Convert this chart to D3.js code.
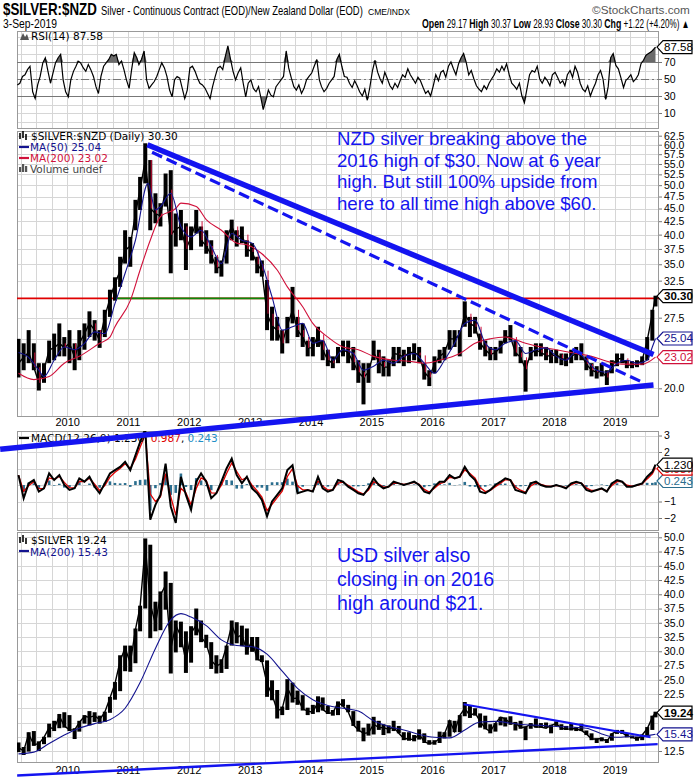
<!DOCTYPE html>
<html>
<head>
<meta charset="utf-8">
<script src="https://cdn.jsdelivr.net/npm/d3@7"></script>
<style>
  body { margin: 0; background: #fff; }
  svg { display: block; }
</style>
</head>
<body>
<svg id="chart" width="700" height="780"></svg>
<script>
// ---- data, one value per month from Mar 2009 to 3 Sep 2019 ----
var nzdHi = [25.0,24.5,26.0,24.5,22.4,22.4,24.8,25.6,26.8,25.2,
  26.0,24.5,26.0,26.8,28.3,27.2,26.0,28.5,31.2,33.0,
  36.2,40.8,39.6,46.8,51.9,60.4,56.0,48.2,46.1,52.7,
  53.5,44.0,44.7,42.1,41.5,44.7,41.5,40.8,39.0,36.2,
  35.6,40.8,42.8,40.8,41.5,39.0,38.5,36.2,35.6,32.6,
  28.9,27.6,26.0,27.6,31.6,27.6,26.8,24.8,25.2,26.4,
  24.8,23.8,23.1,24.1,24.8,24.8,24.1,22.7,22.4,22.4,
  24.8,23.8,23.1,22.7,24.1,24.1,23.8,24.1,24.5,24.1,
  22.4,21.7,23.1,23.8,24.1,26.0,26.0,26.0,29.6,27.6,
  27.6,25.6,24.8,24.1,24.1,24.8,26.0,26.6,24.8,24.1,
  22.7,24.1,24.5,24.5,24.1,23.8,23.8,23.4,23.4,23.8,
  24.1,24.5,23.1,22.4,22.1,22.4,21.7,22.7,23.4,23.4,
  22.7,22.6,22.7,23.1,25.2,28.5,30.37];
var nzdLo = [21.0,21.7,22.4,21.7,19.8,20.5,22.4,22.7,23.1,23.1,
  22.4,21.7,22.7,23.8,25.2,24.8,24.0,25.2,27.6,29.7,
  31.6,35.1,34.6,40.8,44.7,50.4,40.8,42.1,41.5,45.4,
  33.6,37.9,39.0,34.1,37.3,40.2,37.9,36.7,35.1,33.6,
  33.1,35.1,39.0,37.9,38.5,36.2,35.6,33.6,33.1,26.0,
  24.8,24.8,23.4,24.5,26.8,25.2,24.1,23.1,23.1,24.1,
  22.7,22.1,21.9,22.4,23.1,22.4,21.7,20.5,18.6,20.5,
  22.7,21.4,21.1,21.1,22.1,22.4,22.1,22.4,22.7,22.4,
  20.8,20.2,21.4,22.4,22.7,23.8,24.1,23.1,26.4,25.2,
  25.6,23.8,23.1,22.7,22.7,23.4,24.5,24.8,23.1,22.4,
  19.7,22.7,23.1,23.1,22.7,22.4,22.4,22.2,22.1,22.4,
  22.7,22.7,21.7,21.1,20.9,21.1,20.3,21.4,22.1,22.4,
  21.9,21.9,22.0,22.2,22.7,24.8,28.93];
var nzdClose = [22.4,23.0,23.5,22.0,20.5,21.7,23.8,24.0,24.5,24.0,
  24.5,23.0,24.5,25.6,26.8,26.0,24.8,27.6,30.0,32.1,
  34.0,37.3,38.0,44.0,49.0,56.0,45.0,44.0,43.5,49.0,
  40.0,41.0,41.5,37.5,39.5,42.5,39.0,38.0,36.5,34.5,
  34.5,39.5,41.5,39.5,40.0,37.5,37.0,35.0,34.0,28.0,
  26.5,26.0,24.5,26.5,28.5,26.0,25.2,24.0,24.0,25.5,
  23.8,22.7,22.4,23.5,23.8,23.5,22.5,21.5,21.0,21.5,
  23.5,22.5,22.0,22.0,23.4,23.3,23.0,23.5,23.5,23.2,
  21.5,21.0,22.3,23.1,23.5,25.0,25.0,25.5,28.0,26.8,
  26.4,24.5,23.8,23.3,23.5,24.1,25.2,25.2,23.5,23.0,
  21.8,23.4,23.8,23.5,23.2,23.1,23.3,22.9,22.7,23.1,
  23.4,23.2,22.3,21.7,21.5,21.6,21.0,22.2,22.8,22.9,
  22.2,22.2,22.3,22.7,24.8,28.0,30.30];

var usdHi = [14.0,13.2,15.8,16.0,14.2,15.0,17.3,17.8,19.0,19.3,
  18.8,16.5,17.8,18.8,19.5,19.3,18.7,19.4,22.0,24.6,
  29.3,31.0,31.0,34.0,38.0,49.8,48.7,38.7,40.5,44.0,
  42.0,35.4,35.2,33.5,34.4,37.5,35.4,32.9,31.6,29.3,
  28.6,31.0,35.4,35.1,34.5,34.0,32.5,32.5,29.3,28.4,
  24.9,23.2,20.3,25.1,24.5,23.1,22.3,20.1,20.6,22.1,
  21.9,20.4,19.7,21.2,21.6,20.6,19.5,17.8,16.6,17.3,
  18.5,17.8,17.2,17.0,17.8,16.9,15.8,15.8,15.3,16.3,
  15.6,14.4,14.4,15.9,15.8,17.9,17.8,18.8,21.1,20.5,
  20.0,19.1,18.7,17.2,17.4,18.5,18.4,18.6,17.6,17.8,
  16.8,17.4,18.2,17.4,17.5,17.1,17.7,17.2,16.9,17.4,
  16.7,17.3,16.1,15.6,14.7,14.9,14.6,15.6,16.2,16.2,
  15.6,15.2,15.0,15.4,16.7,18.7,19.4];
var usdLo = [12.3,11.8,12.4,13.4,12.5,13.7,14.9,16.0,16.5,16.6,
  16.0,14.6,15.9,17.3,17.0,17.6,17.3,17.6,19.2,21.5,
  23.0,26.5,26.4,27.9,33.5,37.5,32.3,33.5,33.7,37.3,
  26.1,29.8,30.7,26.2,28.0,32.8,31.6,30.6,26.9,26.1,
  26.2,26.9,31.0,31.4,30.9,29.4,29.9,28.4,28.1,22.0,
  21.4,18.2,18.8,19.7,21.0,20.6,19.6,18.8,19.0,19.3,
  19.6,19.0,18.7,18.8,20.3,19.3,16.9,15.9,14.2,15.2,
  15.4,16.2,15.3,15.6,16.0,15.6,14.4,14.3,14.2,14.5,
  13.9,13.6,13.6,13.9,14.7,15.0,15.8,15.8,18.6,18.3,
  18.7,16.6,16.3,15.6,15.9,17.0,16.8,17.1,16.1,16.4,
  14.4,16.4,16.6,16.6,16.6,15.6,16.9,16.2,16.2,16.1,
  16.0,16.0,15.3,14.4,13.9,14.2,13.9,14.3,15.5,15.5,
  14.9,14.7,14.3,14.4,15.0,16.2,18.4];
var usdClose = [13.1,12.5,15.5,13.6,13.8,14.9,16.6,16.4,18.6,16.9,
  16.2,16.2,17.5,18.6,18.4,18.7,18.0,19.3,21.8,24.3,
  28.3,30.6,27.9,33.8,37.8,48.6,38.3,34.8,39.9,41.6,
  30.4,34.6,32.6,28.2,33.2,34.6,32.5,31.3,28.4,27.4,
  27.9,30.9,34.6,32.4,32.9,30.0,31.9,28.6,28.3,24.3,
  22.4,19.6,19.9,23.6,21.7,21.8,19.9,19.5,19.3,21.1,
  19.8,19.1,19.2,21.0,20.4,19.4,17.1,16.2,15.6,15.7,
  17.2,16.6,16.6,16.3,16.7,15.6,14.7,14.6,14.5,15.5,
  14.1,13.8,14.0,14.7,15.5,17.8,15.9,18.7,20.0,18.7,
  19.2,17.7,16.5,15.9,17.4,18.4,18.2,17.3,17.4,16.6,
  16.7,17.2,16.7,16.7,16.5,17.0,17.3,16.5,16.3,16.4,
  16.4,16.1,15.5,14.6,14.6,14.7,14.2,15.5,16.0,15.7,
  15.1,15.0,14.5,15.3,16.4,18.4,19.24];

var macdVals = [0.6,-0.8,0.1,0.3,-0.4,-0.2,0.7,0.3,0.6,0.0,
  -0.3,-0.2,0.4,0.2,0.5,-0.1,-0.5,0.1,0.7,0.9,
  1.1,1.4,0.9,1.8,2.6,3.4,-2.1,-1.2,-0.6,1.3,
  -1.3,-2.3,0.5,-0.6,-1.5,0.2,0.7,0.2,-0.8,-0.5,
  0.2,1.0,1.6,0.6,0.1,0.5,-0.2,-0.5,-0.9,-1.9,
  -1.0,-0.6,-0.2,0.9,1.2,-0.5,-0.4,-0.3,-0.4,0.5,
  -0.2,-0.4,-0.3,0.3,0.2,-0.1,-0.3,-0.5,-0.6,-0.2,
  0.4,0.0,-0.2,-0.1,0.2,0.1,0.0,0.1,0.2,0.0,
  -0.4,-0.5,-0.1,0.2,0.2,0.6,0.4,0.5,1.1,0.6,
  0.3,-0.4,-0.5,-0.3,0.0,0.2,0.4,0.3,-0.3,-0.4,
  -0.5,0.1,0.2,0.0,-0.1,-0.1,0.0,-0.1,-0.2,0.1,
  0.2,0.1,-0.3,-0.4,-0.3,-0.2,-0.4,0.1,0.3,0.2,
  -0.1,-0.1,0.0,0.1,0.5,0.8,1.23];

// RSI, two readings a month
var rsiVals = [43,45,53,55,61,65,35,27,43,53,
  69,75,59,45,57,69,75,79,49,35,
  29,49,59,65,71,69,63,59,67,61,
  53,41,33,53,65,69,73,79,77,79,
  67,71,61,49,39,61,81,75,67,73,
  83,49,39,43,47,53,61,69,63,53,
  37,29,49,53,51,39,27,37,63,65,
  59,51,45,43,39,33,27,41,53,63,
  65,61,77,89,73,59,49,57,63,45,
  29,45,49,39,35,41,29,14,25,37,
  31,29,41,45,49,53,83,63,51,41,
  37,43,33,39,49,53,57,65,73,49,
  41,35,39,45,49,53,73,79,65,53,
  52,45,40,48,42,35,30,38,25,40,
  60,72,58,50,45,58,50,42,38,45,
  40,48,55,52,62,55,50,45,52,48,
  40,33,36,30,42,55,48,58,60,52,
  65,70,62,55,68,75,80,70,55,60,
  50,42,38,35,42,38,45,50,55,62,
  58,65,60,68,55,45,42,38,45,30,
  22,38,55,60,58,65,50,45,52,48,
  42,55,58,52,45,48,42,55,60,52,
  65,58,45,38,35,42,30,38,45,55,
  60,50,26,41,75,80,66,62,51,40,
  48,51,55,47,50,55,68,72,78,80,
  82,85,87.58];

var ma50Dates = ["2009-03-15","2009-05-15","2009-07-15","2009-08-15","2009-10-15","2009-12-15",
  "2010-02-15","2010-04-15","2010-06-15","2010-08-15","2010-10-15","2010-12-15",
  "2011-02-15","2011-05-01","2011-06-15","2011-07-15","2011-09-15","2011-11-15",
  "2012-01-15","2012-03-15","2012-05-15","2012-07-15","2012-09-15","2012-11-15",
  "2013-01-15","2013-03-15","2013-05-15","2013-07-15","2013-09-15","2013-11-15",
  "2014-01-15","2014-03-15","2014-05-15","2014-07-15","2014-09-15","2014-11-15",
  "2015-01-15","2015-03-15","2015-05-15","2015-07-15","2015-09-15","2015-11-15",
  "2016-01-15","2016-03-15","2016-05-15","2016-07-15","2016-09-15","2016-11-15",
  "2017-01-15","2017-03-15","2017-05-15","2017-07-15","2017-09-15","2017-11-15",
  "2018-01-15","2018-03-15","2018-05-15","2018-07-15","2018-09-15","2018-11-15",
  "2019-01-15","2019-03-15","2019-05-15","2019-07-15","2019-08-15","2019-09-03"];
var ma50Vals = [23.5,23.0,21.7,21.1,22.7,24.1,
  23.8,24.5,25.8,25.6,29.3,33.6,
  39.0,50.4,44.7,45.4,48.2,41.5,
  39.6,40.8,37.9,35.1,40.2,39.0,
  38.5,35.1,30.2,26.0,26.4,26.8,
  24.5,24.8,22.7,23.8,23.4,21.7,
  22.1,22.7,22.4,23.1,23.4,22.4,
  21.4,22.7,24.5,26.8,27.2,24.5,
  23.8,24.5,24.8,23.4,23.8,24.0,
  23.1,22.7,23.6,22.7,21.7,21.5,
  22.4,22.7,22.4,22.7,24.1,25.04];

var ma200Dates = ["2009-03-15","2009-06-15","2009-09-15","2009-12-15","2010-03-15","2010-07-15",
  "2010-09-15","2010-10-15","2011-01-15","2011-03-15","2011-05-15","2011-07-15",
  "2011-10-15","2011-11-15","2012-02-15","2012-04-15","2012-07-15","2012-10-15",
  "2012-12-15","2013-03-15","2013-06-15","2013-08-15","2013-11-15","2014-01-15",
  "2014-04-15","2014-07-15","2014-10-15","2015-01-15","2015-05-15","2015-08-15",
  "2015-11-15","2016-02-15","2016-06-15","2016-09-15","2016-12-15","2017-03-15",
  "2017-07-15","2017-10-15","2018-01-15","2018-05-15","2018-08-15","2018-11-15",
  "2019-02-15","2019-06-15","2019-09-03"];
var ma200Vals = [21.4,20.8,21.1,22.4,23.1,24.5,
  25.2,26.4,29.7,34.1,39.0,43.4,
  45.0,46.1,45.4,42.8,40.8,38.5,
  38.2,36.7,34.1,31.6,28.9,26.8,
  25.2,24.1,23.8,23.1,22.7,22.6,
  22.4,22.7,23.4,24.5,25.0,25.2,
  24.5,24.1,23.8,23.4,23.1,22.6,
  22.3,22.3,23.02];

var usdMaDates = ["2009-03-15","2009-06-15","2009-09-15","2009-12-15","2010-03-15","2010-06-15",
  "2010-09-15","2010-12-15","2011-03-15","2011-06-15","2011-09-15","2011-11-15",
  "2012-01-15","2012-04-15","2012-07-15","2012-10-15","2013-01-15","2013-04-15",
  "2013-07-15","2013-10-15","2014-01-15","2014-04-15","2014-07-15","2014-10-15",
  "2015-01-15","2015-04-15","2015-07-15","2015-10-15","2016-01-15","2016-04-15",
  "2016-07-15","2016-10-15","2017-01-15","2017-04-15","2017-07-15","2017-10-15",
  "2018-01-15","2018-04-15","2018-07-15","2018-10-15","2019-01-15","2019-04-15",
  "2019-07-15","2019-09-03"];
var usdMaVals = [12.0,12.3,13.8,15.3,16.5,17.3,
  18.0,20.0,24.5,30.5,35.5,36.6,
  36.0,34.5,32.0,31.0,30.8,29.5,
  26.5,23.5,21.5,20.5,20.0,19.5,
  17.8,16.8,16.2,15.4,14.9,14.8,
  16.2,17.6,17.7,17.4,17.1,17.0,
  16.8,16.7,16.5,15.5,14.9,15.1,
  15.2,15.43];

// hand-drawn trend lines: [date, price]
var nzdUpperLine = [["2011-04-28", 60.0], ["2019-08-22", 23.3]];
var nzdDashLine = [["2011-05-26", 58.0], ["2019-06-24", 20.5]];
var nzdLowerLine = [["2008-11-25", 15.2], ["2019-08-22", 20.3]];
var usdUpperLine = [["2016-07-08", 20.7], ["2019-08-04", 14.9]];
var usdLowerLine = [["2009-03-07", 8.2], ["2019-09-16", 13.7]];
var hLineValue = 30;
var hLineGreen = ["2010-10-20", "2013-04-12"];

var nzdTicks = [20,22.5,25,27.5,30,32.5,35,37.5,40,42.5,45,47.5,50,52.5,55,57.5,60,62.5];
var usdTicks = [12.5,15,17.5,20,22.5,25,27.5,30,32.5,35,37.5,40,42.5,45,47.5,50];
var rsiTicks = [10,30,50,70];
var macdTicks = [-2,-1,0,1,2,3];

var noteNzd = ["NZD silver breaking above the", "2016 high of $30. Now at 6 year",
  "high. But still 100% upside from", "here to all time high above $60."];
var noteUsd = ["USD silver also", "closing in on 2016", "high around $21."];

// ---- setup ----
var svg = d3.select("#chart");
var L = 17, R = 659;
var parse = d3.timeParse("%Y-%m-%d");
var NAVY = "#13138f", CRIMSON = "#d0103a", TEAL = "#2b6e8e", BLUE = "#1414f0";
var AX_FONT = "'Liberation Sans', Arial, sans-serif";
var LEG_FONT = "'DejaVu Sans', Verdana, sans-serif";
var NARROW = "'Liberation Sans Narrow', 'Liberation Sans', sans-serif";

var months = d3.timeMonth.range(new Date(2009, 2, 1), new Date(2019, 9, 1));
var dates = months.map(function (d, i) {
    return i === months.length - 1 ? new Date(2019, 8, 3) : d3.timeDay.offset(d, 14);
});
var x = d3.scaleTime().domain([new Date(2009, 2, 6), new Date(2019, 8, 24)]).range([L, R]);
var quarters = d3.timeMonth.every(3).range(new Date(2009, 2, 6), new Date(2019, 8, 24));

var yRsi = d3.scaleLinear().domain([0, 100]).range([121.5, 36.5]);
var yNzd = d3.scaleLog().domain([20, 62.5]).range([388.3, 135.7]);
var yMacd = d3.scaleLinear().domain([-2, 3]).range([518, 435.5]);
var yUsd = d3.scaleLinear().domain([12.5, 50]).range([751, 537.3]);

function drawPanel(id, top, bottom, y, gridVals) {
    var g = svg.append("g");
    g.append("clipPath").attr("id", id).append("rect")
        .attr("x", L).attr("y", top).attr("width", R - L).attr("height", bottom - top);
    g.selectAll(".vg").data(quarters).enter().append("line")
        .attr("x1", function (d) { return Math.round(x(d)) + 0.5; })
        .attr("x2", function (d) { return Math.round(x(d)) + 0.5; })
        .attr("y1", top).attr("y2", bottom)
        .attr("stroke", "#d6d6d6");
    g.selectAll(".hg").data(gridVals).enter().append("line")
        .attr("x1", L).attr("x2", R)
        .attr("y1", function (d) { return Math.round(y(d)) + 0.5; })
        .attr("y2", function (d) { return Math.round(y(d)) + 0.5; })
        .attr("stroke", "#d6d6d6");
    g.append("rect").attr("x", L + 0.5).attr("y", top + 0.5)
        .attr("width", R - L - 1).attr("height", bottom - top - 1)
        .attr("fill", "none").attr("stroke", "#9a9a9a");
    return svg.append("g").attr("clip-path", "url(#" + id + ")");
}

// tick labels hidden under the value boxes are left out
function rightAxis(y, vals, fmt, boxed) {
    var shown = vals.filter(function (v) {
        return !boxed.some(function (b) { return Math.abs(y(v) - y(b)) < 11; });
    });
    var ax = d3.axisRight(y).tickValues(shown).tickFormat(fmt).tickSize(3).tickPadding(2);
    var ga = svg.append("g").attr("transform", "translate(" + R + ",0)").call(ax);
    ga.select(".domain").remove();
    ga.selectAll("line").attr("stroke", "#777");
    ga.selectAll("text").attr("font-family", AX_FONT).attr("font-size", 10.5).attr("fill", "#000");
}

function yearAxis(yPos) {
    var ax = d3.axisBottom(x).ticks(d3.timeYear.every(1)).tickFormat(d3.timeFormat("%Y")).tickSize(0).tickPadding(0);
    var ga = svg.append("g").attr("transform", "translate(0," + yPos + ")").call(ax);
    ga.select(".domain").remove();
    ga.selectAll("text").attr("font-family", AX_FONT).attr("font-size", 11).attr("fill", "#000");
}

function valueBox(yv, label, color, bold) {
    var tip = R - 2;
    var g = svg.append("g");
    g.append("path")
        .attr("d", "M" + tip + "," + yv + "L" + (tip + 6) + "," + (yv - 6.5) + "L" + (tip + 35) + "," + (yv - 6.5) +
            "L" + (tip + 35) + "," + (yv + 6.5) + "L" + (tip + 6) + "," + (yv + 6.5) + "Z")
        .attr("fill", "#fff").attr("stroke", color).attr("stroke-width", 1.2);
    g.append("text").attr("x", tip + 7).attr("y", yv + 4)
        .attr("font-family", AX_FONT).attr("font-size", 11.5)
        .attr("font-weight", bold ? "bold" : "normal")
        .attr("fill", color).text(label);
}

function priceBars(g, y, hi, lo, close, downColor) {
    g.selectAll(null).data(dates).enter().append("line")
        .attr("x1", function (d) { return x(d); }).attr("x2", function (d) { return x(d); })
        .attr("y1", function (d, i) { return y(hi[i]); })
        .attr("y2", function (d, i) { return y(lo[i]); })
        .attr("stroke", "#000").attr("stroke-width", 4);
    var line = d3.line().x(function (d) { return x(d); }).y(function (d, i) { return y(close[i]); });
    g.append("path").datum(dates).attr("d", line)
        .attr("fill", "none").attr("stroke", "#000").attr("stroke-width", 1.4);
    if (downColor) {
        g.selectAll(null).data(dates).enter()
            .filter(function (d, i) { return i > 0 && close[i] < close[i - 1]; })
            .append("line")
            .attr("x1", function (d) { return x(d) + 1; }).attr("x2", function (d) { return x(d) + 1; })
            .attr("y1", function (d) { var i = dates.indexOf(d); return y(close[i - 1]); })
            .attr("y2", function (d) { var i = dates.indexOf(d); return y(close[i]); })
            .attr("stroke", downColor).attr("stroke-width", 1);
    }
}

function maLine(g, y, ds, vs, color) {
    var pts = ds.map(function (d, i) { return [parse(d), vs[i]]; });
    var line = d3.line().curve(d3.curveMonotoneX)
        .x(function (d) { return x(d[0]); }).y(function (d) { return y(d[1]); });
    g.append("path").datum(pts).attr("d", line)
        .attr("fill", "none").attr("stroke", color).attr("stroke-width", 1.1);
}

function legendText(xp, yp, parts) {
    var t = svg.append("text").attr("x", xp).attr("y", yp)
        .attr("font-family", LEG_FONT).attr("font-size", 10.5);
    parts.forEach(function (p) { t.append("tspan").attr("fill", p[1]).text(p[0]); });
}

function legendDash(yp, color) {
    svg.append("line").attr("x1", 19).attr("x2", 29).attr("y1", yp).attr("y2", yp)
        .attr("stroke", color).attr("stroke-width", 2.2);
}

function ohlcIcon(yp) {
    [[20, 2, 8], [23, 0, 7], [26, 3, 9]].forEach(function (b) {
        svg.append("line").attr("x1", b[0]).attr("x2", b[0])
            .attr("y1", yp - 9 + b[1]).attr("y2", yp - 9 + b[2])
            .attr("stroke", "#000").attr("stroke-width", 1.6);
    });
}

// header text squeezed horizontally to the width it has in the original
function fitText(xp, yp, w, anchor, parts, fill) {
    var t = svg.append("text").attr("x", 0).attr("y", 0)
        .attr("font-family", NARROW).attr("fill", fill || "#000");
    parts.forEach(function (p) {
        t.append("tspan").attr("font-size", p[1]).attr("font-weight", p[2] ? "bold" : "normal").text(p[0]);
    });
    var len = t.node().getComputedTextLength();
    var x0 = anchor === "end" ? xp - w : xp;
    t.attr("transform", "translate(" + x0 + "," + yp + ") scale(" + (w / len) + ",1)");
}

// ---- header ----
fitText(3, 15, 94, "start", [["$SILVER:$NZD", 16, 1]]);
fitText(101, 15, 262, "start", [["Silver - Continuous Contract (EOD)/New Zealand Dollar (EOD)", 12.5, 0]]);
fitText(368, 15, 42, "start", [["CME/INDX", 9.5, 0]]);
fitText(690, 14, 98, "end", [["\u00a9StockCharts.com", 11, 0]], "#555");
fitText(3, 28, 54, "start", [["3-Sep-2019", 12, 0]]);
fitText(690, 28, 268, "end", [["Open", 13, 1], [" 29.17 ", 12, 0], ["High", 13, 1], [" 30.37 ", 12, 0],
    ["Low", 13, 1], [" 28.93 ", 12, 0], ["Close", 13, 1], [" 30.30 ", 12, 0],
    ["Chg", 13, 1], [" +1.22 (+4.20%) \u25b2", 12, 0]]);

// ---- RSI panel ----
var gRsi = drawPanel("clipRsi", 31, 129, yRsi, d3.range(0, 101, 10));
[70, 30].forEach(function (v) {
    gRsi.append("line").attr("x1", L).attr("x2", R).attr("y1", Math.round(yRsi(v)) + 0.5).attr("y2", Math.round(yRsi(v)) + 0.5)
        .attr("stroke", "#777");
});
gRsi.append("line").attr("x1", L).attr("x2", R).attr("y1", Math.round(yRsi(50)) + 0.5).attr("y2", Math.round(yRsi(50)) + 0.5)
    .attr("stroke", "#777").attr("stroke-dasharray", "8,3,2,3");
var rsiPts = rsiVals.map(function (v, k) {
    var m = Math.floor(k / 2);
    var d = k === rsiVals.length - 1 ? new Date(2019, 8, 3) : d3.timeDay.offset(months[m], k % 2 ? 22 : 7);
    return [d, v];
});
gRsi.append("path").datum(rsiPts)
    .attr("d", d3.area().x(function (d) { return x(d[0]); })
        .y0(yRsi(70)).y1(function (d) { return yRsi(Math.max(70, d[1])); }))
    .attr("fill", "#6a6a6a");
gRsi.append("path").datum(rsiPts)
    .attr("d", d3.area().x(function (d) { return x(d[0]); })
        .y0(yRsi(30)).y1(function (d) { return yRsi(Math.min(30, d[1])); }))
    .attr("fill", "#6a6a6a");
gRsi.append("path").datum(rsiPts)
    .attr("d", d3.line().x(function (d) { return x(d[0]); }).y(function (d) { return yRsi(d[1]); }))
    .attr("fill", "none").attr("stroke", "#000").attr("stroke-width", 1.2);
rightAxis(yRsi, rsiTicks, d3.format("d"), [87.58]);
svg.append("path").attr("d", "M20,40 L23,33 L25,37 L27,34 L29,40 Z").attr("fill", "#555");
legendText(31, 40, [["RSI(14) 87.58", "#000"]]);
valueBox(yRsi(87.58), "87.58", "#000", false);

// ---- main NZD panel ----
var gMain = drawPanel("clipMain", 131, 417, yNzd, nzdTicks);
var gx0 = x(parse(hLineGreen[0])), gx1 = x(parse(hLineGreen[1]));
gMain.append("line").attr("x1", L).attr("x2", R).attr("y1", yNzd(hLineValue)).attr("y2", yNzd(hLineValue))
    .attr("stroke", "#e00000").attr("stroke-width", 1.6);
gMain.append("line").attr("x1", gx0).attr("x2", gx1).attr("y1", yNzd(hLineValue)).attr("y2", yNzd(hLineValue))
    .attr("stroke", "#0a8a0a").attr("stroke-width", 1.6);
priceBars(gMain, yNzd, nzdHi, nzdLo, nzdClose, CRIMSON);
maLine(gMain, yNzd, ma200Dates, ma200Vals, CRIMSON);
maLine(gMain, yNzd, ma50Dates, ma50Vals, NAVY);
rightAxis(yNzd, nzdTicks, d3.format(".1f"), [30.30, 25.04, 23.02]);
ohlcIcon(140);
legendText(31, 140, [["$SILVER:$NZD (Daily) 30.30", "#000"]]);
legendDash(147, NAVY);
legendText(30, 151, [["MA(50) 25.04", NAVY]]);
legendDash(158, CRIMSON);
legendText(30, 162, [["MA(200) 23.02", CRIMSON]]);
[[20, 5], [23, 8], [26, 6]].forEach(function (b) {
    svg.append("rect").attr("x", b[0] - 1).attr("y", 172 - b[1]).attr("width", 2.2).attr("height", b[1]).attr("fill", "#555");
});
legendText(30, 173, [["Volume undef", "#444"]]);
valueBox(yNzd(23.02), "23.02", CRIMSON, false);
valueBox(yNzd(25.04), "25.04", NAVY, false);
valueBox(yNzd(30.30), "30.30", "#000", true);
yearAxis(418);

// ---- MACD panel ----
var gMacd = drawPanel("clipMacd", 431, 531, yMacd, macdTicks);
var signal = [];
macdVals.forEach(function (v, i) { signal.push(i === 0 ? v : signal[i - 1] + 0.7 * (v - signal[i - 1])); });
gMacd.selectAll(null).data(dates).enter().append("line")
    .attr("x1", function (d) { return x(d); }).attr("x2", function (d) { return x(d); })
    .attr("y1", yMacd(0))
    .attr("y2", function (d, i) { return yMacd(macdVals[i] - signal[i]); })
    .attr("stroke", TEAL).attr("stroke-width", 2.6);
var macdLine = function (arr) {
    return d3.line().x(function (d) { return x(d); }).y(function (d, i) { return yMacd(arr[i]); });
};
gMacd.append("path").datum(dates).attr("d", macdLine(signal))
    .attr("fill", "none").attr("stroke", "#e00000").attr("stroke-width", 1.3);
gMacd.append("path").datum(dates).attr("d", macdLine(macdVals))
    .attr("fill", "none").attr("stroke", "#000").attr("stroke-width", 2);
rightAxis(yMacd, macdTicks, d3.format("d"), [1.23, 0.243]);
legendDash(438, "#000");
legendText(31, 442, [["MACD(12,26,9) 1.230", "#000"], [", ", "#000"], ["0.987", "#e00000"], [", ", "#000"], ["0.243", "#1f8fc7"]]);
valueBox(yMacd(0.243), "0.243", TEAL, false);
valueBox(yMacd(0.987), "0.987", "#e00000", false);
valueBox(yMacd(1.23), "1.230", "#000", false);

// ---- USD panel ----
var gUsd = drawPanel("clipUsd", 532, 763, yUsd, usdTicks);
priceBars(gUsd, yUsd, usdHi, usdLo, usdClose, null);
maLine(gUsd, yUsd, usdMaDates, usdMaVals, NAVY);
rightAxis(yUsd, usdTicks, d3.format(".1f"), [19.24, 15.43]);
ohlcIcon(544);
legendText(31, 544, [["$SILVER 19.24", "#000"]]);
legendDash(551, NAVY);
legendText(30, 555.5, [["MA(200) 15.43", NAVY]]);
valueBox(yUsd(15.43), "15.43", NAVY, false);
valueBox(yUsd(19.24), "19.24", "#000", true);
yearAxis(766);

// ---- annotations ----
function trend(pts, y, width, dash) {
    var p = svg.append("line")
        .attr("x1", x(parse(pts[0][0]))).attr("y1", y(pts[0][1]))
        .attr("x2", x(parse(pts[1][0]))).attr("y2", y(pts[1][1]))
        .attr("stroke", BLUE).attr("stroke-width", width).attr("stroke-linecap", "butt");
    if (dash) p.attr("stroke-dasharray", dash);
}
trend(nzdUpperLine, yNzd, 5.5);
trend(nzdDashLine, yNzd, 3.2, "11,5");
trend(nzdLowerLine, yNzd, 5.5);
trend(usdUpperLine, yUsd, 2);
trend(usdLowerLine, yUsd, 2.4);

function note(lines, xp, yp, step, size) {
    svg.append("g").selectAll("text").data(lines).enter().append("text")
        .attr("x", xp).attr("y", function (d, i) { return yp + i * step; })
        .attr("font-family", AX_FONT).attr("font-size", size).attr("fill", BLUE)
        .text(function (d) { return d; });
}
note(noteNzd, 337, 145, 21.7, 18.6);
note(noteUsd, 337, 562, 24, 19.5);
</script>
</body>
</html>
